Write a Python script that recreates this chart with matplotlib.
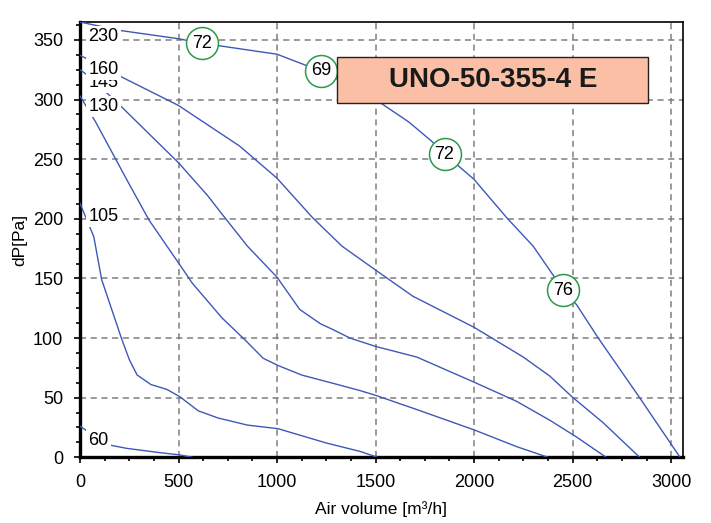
import matplotlib
matplotlib.use("Agg")
import matplotlib.pyplot as plt
from matplotlib.patches import Rectangle
from matplotlib.ticker import MultipleLocator

plt.rcParams['font.family'] = ['Liberation Sans', 'DejaVu Sans']

# fan curves, one per supply voltage
q_230 = [0, 200, 500, 620, 710, 1000, 1220, 1370, 1500, 1670, 1785, 1850, 1930, 2000,
         2165, 2300, 2400, 2450, 2520, 2630, 2840, 3045]
p_230 = [365, 358, 351, 347, 345, 338, 324, 312, 300, 281, 265, 254, 243, 233,
         201, 177, 153, 140, 128, 100, 50, 0]

q_160 = [0, 50, 210, 500, 810, 1000, 1180, 1330, 1500, 1690, 2000, 2250, 2385, 2495, 2655, 2840]
p_160 = [337, 333, 319, 295, 261, 234, 201, 177, 157, 135, 109, 84, 68, 51, 29, 0]

q_145 = [0, 50, 210, 500, 575, 645, 730, 850, 1000, 1115, 1220, 1285, 1370, 1500,
         1710, 2000, 2215, 2385, 2520, 2670]
p_145 = [325, 319, 294, 247, 233, 220, 202, 177, 151, 124, 112, 107, 100, 93,
         84, 63, 47, 31, 17, 0]

q_130 = [0, 80, 240, 350, 500, 570, 720, 840, 930, 1005, 1125, 1285, 1420, 1500,
         1710, 2000, 2215, 2375]
p_130 = [303, 281, 232, 199, 163, 146, 117, 98, 83, 77, 69, 62, 56, 52,
         40, 23, 9, 0]

q_105 = [0, 70, 110, 210, 250, 290, 360, 440, 505, 600, 700, 850, 1005, 1250, 1420, 1510]
p_105 = [213, 185, 149, 100, 82, 69, 61, 57, 51, 39, 33, 27, 24, 12, 5, 0]

q_60 = [0, 42, 150, 237, 406, 507, 570]
p_60 = [26, 21.5, 10.3, 7.5, 3.9, 2, 0]

# label text and the pressure where each label sits
curves = [("230", q_230, p_230, 353),
          ("145", q_145, p_145, 314.5),
          ("160", q_160, p_160, 325.5),
          ("130", q_130, p_130, 294),
          ("105", q_105, p_105, 202),
          ("60", q_60, p_60, 14.5)]

# noise level markers on the 230 V curve
noise_q = [620, 1223, 1850, 2452]
noise_p = [347, 324, 254, 140]
noise_db = ["72", "69", "72", "76"]

title = "UNO-50-355-4 E"

fig = plt.figure(figsize=(7.11, 5.23), dpi=100)
ax = fig.add_axes([0.1125, 0.1256, 0.8481, 0.8323])

blue = "#3f58b8"
for i, (lab, q, p, ly) in enumerate(curves):
    ax.plot(q, p, color=blue, lw=1.0, zorder=3)
    ax.text(42, ly, lab, fontsize=13, ha="left", va="center", zorder=5 + i,
            bbox=dict(facecolor="white", edgecolor="none", pad=1.6))

ax.plot(noise_q, noise_p, ls="none", marker="o", markersize=23,
        markerfacecolor="white", markeredgecolor="#2a9a4a", markeredgewidth=1.1, zorder=12)
for q, p, s in zip(noise_q, noise_p, noise_db):
    ax.text(q, p, s, fontsize=13, ha="center", va="center", zorder=13)

ax.add_patch(Rectangle((0.4266, 0.8144), 0.5158, 0.1050, transform=ax.transAxes,
                       facecolor="#fbbfa5", edgecolor="#222222", lw=1.0, zorder=14))
ax.text(0.6845, 0.8669, title, transform=ax.transAxes, fontsize=20, fontweight="bold",
        ha="center", va="center", color="#1a1a1a", zorder=15)

ax.set_xlim(0, 3060)
ax.set_ylim(0, 365)
ax.xaxis.set_major_locator(MultipleLocator(500))
ax.xaxis.set_minor_locator(MultipleLocator(125))
ax.yaxis.set_major_locator(MultipleLocator(50))
ax.yaxis.set_minor_locator(MultipleLocator(12.5))
ax.grid(True, which="major", color="#7f7f7f", lw=1.1, ls=(0, (4, 3)), zorder=1)
ax.set_axisbelow(True)

ax.tick_params(which="both", direction="out", labelsize=13, width=1.2, colors="black")
ax.tick_params(which="major", length=4, pad=8)
ax.tick_params(which="minor", length=3)

for side in ["left", "bottom"]:
    ax.spines[side].set_linewidth(2.4)
for side in ["top", "right"]:
    ax.spines[side].set_linewidth(1.2)

ax.set_xlabel("Air volume [m³/h]", fontsize=12.5, labelpad=7)
ax.set_ylabel("dP[Pa]", fontsize=12.5, labelpad=4)

fig.savefig("out.png", dpi=100)
